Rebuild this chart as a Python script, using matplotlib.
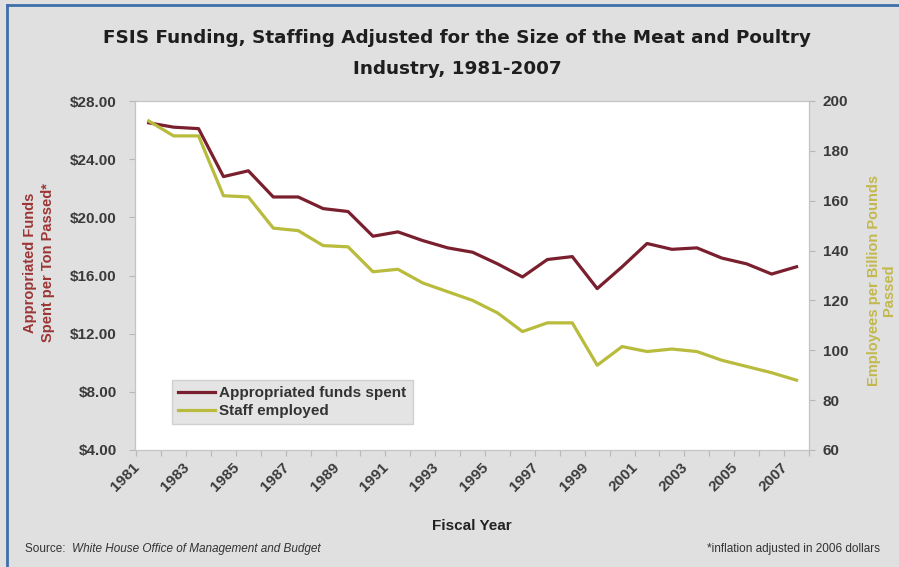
import numpy as np
import matplotlib
matplotlib.use("Agg")
import matplotlib.pyplot as plt
from matplotlib.lines import Line2D
from matplotlib.ticker import FuncFormatter

plt.rcParams['font.family'] = ['Liberation Sans', 'DejaVu Sans']

# data
years = list(range(1981, 2008))
funds = [26.5, 26.2, 26.1, 22.8, 23.2, 21.4, 21.4, 20.6, 20.4, 18.7, 19.0,
         18.4, 17.9, 17.6, 16.8, 15.9, 17.1, 17.3, 15.1, 16.6, 18.2, 17.8,
         17.9, 17.2, 16.8, 16.1, 16.6]
staff = [192, 186, 186, 162, 161.5, 149, 148, 142, 141.5, 131.5, 132.5,
         127, 123.5, 120, 115, 107.5, 111, 111, 94, 101.5, 99.5, 100.5,
         99.5, 96, 93.5, 91, 88]
left_ticks = [4, 8, 12, 16, 20, 24, 28]
right_ticks = [60, 80, 100, 120, 140, 160, 180, 200]
year_labels = list(range(1981, 2008, 2))

bg = '#e0e0e0'
red = '#7a1f2e'
green = '#b8bb3c'
txt = '#3a3a3a'

fig = plt.figure(figsize=(8.99, 5.67), dpi=100, facecolor=bg)
ax = fig.add_axes([135 / 899, 1 - 450 / 567, 674 / 899, 349 / 567])
ax.set_facecolor('white')
ax2 = ax.twinx()

l1, = ax.plot(years, funds, color=red, lw=2.3, label='Appropriated funds spent')
l2, = ax2.plot(years, staff, color=green, lw=2.3, label='Staff employed')

ax.set_xlim(1980.45, 2007.5)
ax.set_ylim(4, 28)
ax2.set_ylim(60, 200)
ax.set_yticks(left_ticks)
ax2.set_yticks(right_ticks)
ax.yaxis.set_major_formatter(FuncFormatter(lambda v, p: '$%.2f' % v))

# ticks between categories, labels at categories
ax.set_xticks(np.arange(1980.5, 2008, 1.0))
ax.set_xticklabels([])
for y in year_labels:
    ax.text(y - 0.25, -0.03, str(y), transform=ax.get_xaxis_transform(),
            rotation=45, ha='right', va='top', fontsize=11, fontweight='bold',
            color=txt)

for a in (ax, ax2):
    for s in a.spines.values():
        s.set_color('#c4c4c4')
    a.tick_params(colors='#b8b8b8', length=4, width=0.8)
ax.tick_params(axis='y', labelcolor=txt, labelsize=11, pad=9)
ax2.tick_params(axis='y', labelcolor=txt, labelsize=11, pad=6)
for lab in ax.get_yticklabels() + ax2.get_yticklabels():
    lab.set_fontweight('bold')

ax.set_xlabel('Fiscal Year', fontsize=11, fontweight='bold', color='#222222',
              labelpad=42)

fig.text(30 / 899, 1 - 263 / 567, 'Appropriated Funds', rotation=90,
         ha='center', va='center', fontsize=10.5, fontweight='bold', color='#9c3636')
fig.text(48 / 899, 1 - 263 / 567, 'Spent per Ton Passed*', rotation=90,
         ha='center', va='center', fontsize=10.5, fontweight='bold', color='#9c3636')
fig.text(874 / 899, 1 - 280 / 567, 'Employees per Billion Pounds', rotation=90,
         ha='center', va='center', fontsize=10.5, fontweight='bold', color='#c2b84c')
fig.text(889 / 899, 1 - 290 / 567, 'Passed', rotation=90,
         ha='center', va='center', fontsize=10.5, fontweight='bold', color='#c2b84c')

fig.text(457 / 899, 1 - 38 / 567,
         'FSIS Funding, Staffing Adjusted for the Size of the Meat and Poultry',
         ha='center', va='center', fontsize=13.2, fontweight='bold',
         color='#1e1e1e', family='DejaVu Sans')
fig.text(457 / 899, 1 - 69 / 567, 'Industry, 1981-2007',
         ha='center', va='center', fontsize=13.2, fontweight='bold',
         color='#1e1e1e', family='DejaVu Sans')

fig.text(25 / 899, 1 - 549 / 567, 'Source: ', ha='left', va='center',
         fontsize=8.5, color='#333333')
fig.text(72 / 899, 1 - 549 / 567, 'White House Office of Management and Budget',
         ha='left', va='center', fontsize=8.5, style='italic', color='#333333')
fig.text(880 / 899, 1 - 549 / 567, '*inflation adjusted in 2006 dollars',
         ha='right', va='center', fontsize=8.5, color='#333333')

leg = ax2.legend([l1, l2], [l1.get_label(), l2.get_label()],
                 loc='lower left', bbox_to_anchor=(172 / 899, 1 - 424 / 567),
                 bbox_transform=fig.transFigure, frameon=True, fancybox=False,
                 fontsize=11, handlelength=2.4, handletextpad=0.3,
                 borderpad=0.4, labelspacing=0.25, borderaxespad=0)
leg.get_frame().set_facecolor('#dedede')
leg.get_frame().set_edgecolor('#c8c8c8')
for t in leg.get_texts():
    t.set_color('#333333')
    t.set_fontweight('bold')

# blue frame at top and left
fig.add_artist(Line2D([7, 899], [562, 562], transform=None, color='#3e6fa8', lw=2))
fig.add_artist(Line2D([7, 7], [0, 562], transform=None, color='#3e6fa8', lw=2))

fig.savefig('out.png', dpi=100, facecolor=bg)
